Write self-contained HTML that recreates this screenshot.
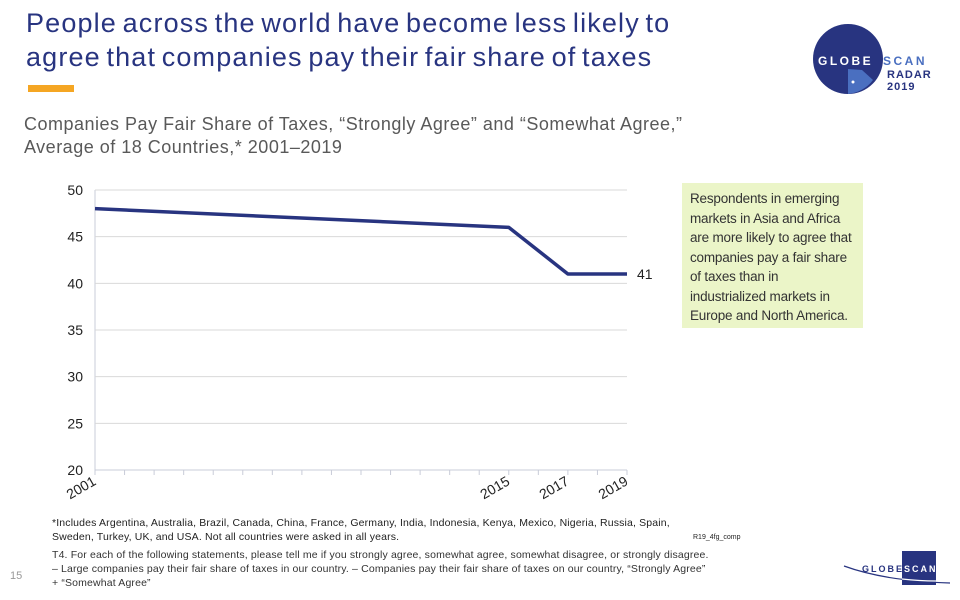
<!DOCTYPE html>
<html><head><meta charset="utf-8"><style>
body{margin:0;width:960px;height:600px;overflow:hidden;background:#fff;font-family:"Liberation Sans",sans-serif;position:relative}
.a{position:absolute}
</style></head><body>
<div class="a" style="left:26px;top:6px;font-size:27px;line-height:34px;color:#283480;letter-spacing:1.15px;word-spacing:-3px;white-space:nowrap">People across the world have become less likely to<br>agree that companies pay their fair share of taxes</div>
<div class="a" style="left:28px;top:85px;width:46px;height:7px;background:#f5a623"></div>
<div class="a" style="left:24px;top:113px;font-size:18px;line-height:23px;color:#595959;letter-spacing:0.5px;white-space:nowrap">Companies Pay Fair Share of Taxes, “Strongly Agree” and “Somewhat Agree,”<br>Average of 18 Countries,* 2001–2019</div>
<svg class="a" style="left:810px;top:20px" width="140" height="80">
<circle cx="38" cy="39" r="35" fill="#283480"/>
<path d="M38 49 L52 50 L63 60 A35 35 0 0 1 38 74 Z" fill="#4a6fc0"/>
<circle cx="43" cy="62" r="1.5" fill="#fff"/>
<text x="8" y="45" font-size="12" font-weight="bold" fill="#fff" letter-spacing="2.5">GLOBE</text>
<text x="73" y="45" font-size="12" font-weight="bold" fill="#4a6fc0" letter-spacing="2.5">SCAN</text>
<text x="77" y="58" font-size="11" font-weight="bold" fill="#283480" letter-spacing="1">RADAR</text>
<text x="77" y="70" font-size="11" font-weight="bold" fill="#283480" letter-spacing="1">2019</text>
</svg>
<svg class="a" id="chart" style="left:0;top:0" width="960" height="600"></svg>
<div class="a" style="left:682px;top:183px;width:181px;height:145px;background:#ebf5c8;box-sizing:border-box;padding:6px 8px;font-size:13.5px;line-height:19.5px;color:#333;letter-spacing:-0.2px">Respondents in emerging markets in Asia and Africa are more likely to agree that companies pay a fair share of taxes than in industrialized markets in Europe and North America.</div>
<div class="a" style="left:52px;top:516px;font-size:10.5px;line-height:14px;color:#222;width:720px;letter-spacing:0.15px;white-space:nowrap">*Includes Argentina, Australia, Brazil, Canada, China, France, Germany, India, Indonesia, Kenya, Mexico, Nigeria, Russia, Spain,<br>Sweden, Turkey, UK, and USA. Not all countries were asked in all years.</div>
<div class="a" style="left:693px;top:534px;font-size:7px;color:#222">R19_4fg_comp</div>
<div class="a" style="left:52px;top:548px;font-size:10.5px;line-height:14px;color:#333;width:760px;letter-spacing:0.15px;white-space:nowrap">T4. For each of the following statements, please tell me if you strongly agree, somewhat agree, somewhat disagree, or strongly disagree.<br>– Large companies pay their fair share of taxes in our country. – Companies pay their fair share of taxes on our country, “Strongly Agree”<br>+ “Somewhat Agree”</div>
<div class="a" style="left:10px;top:570px;font-size:11px;color:#999">15</div>
<svg class="a" style="left:840px;top:545px" width="115" height="45">
<rect x="62" y="6" width="34" height="34" fill="#283480"/>
<path d="M4 21 Q45 36 110 38" stroke="#283480" stroke-width="1.2" fill="none"/>
<path d="M62 34 Q80 36 96 36" stroke="#fff" stroke-width="1.2" fill="none"/>
<text x="22" y="27" font-size="9" font-weight="bold" fill="#283480" letter-spacing="2">GLOBE</text>
<text x="64" y="27" font-size="9" font-weight="bold" fill="#fff" letter-spacing="2">SCAN</text>
</svg>
<script>
const years=[2001,2002,2003,2004,2005,2006,2007,2008,2009,2010,2011,2012,2013,2014,2015,2016,2017,2018,2019];
const dataYears=[2001,2015,2017,2019];
const values=[48,46,41,41];
const yTicks=[20,25,30,35,40,45,50];
const xLabels=[2001,2015,2017,2019];
const ns="http://www.w3.org/2000/svg";
const svg=document.getElementById('chart');
const x0=95,x1=627,y0=470,y1=190;
const xs=y=>x0+(y-2001)/(2019-2001)*(x1-x0);
const ys=v=>y0-(v-20)/(50-20)*(y0-y1);
function mk(t,a){const e=document.createElementNS(ns,t);for(const k in a)e.setAttribute(k,a[k]);svg.appendChild(e);return e;}
let e=mk('line',{x1:x0,y1:y1,x2:x0,y2:y0,stroke:'#c8ccd8'});


e=mk('line',{x1:x0,y1:y0,x2:x1,y2:y0,stroke:'#c8ccd8'});


yTicks.forEach(v=>{
 if(v>20){const g=mk('line',{x1:x0,y1:ys(v),x2:x1,y2:ys(v),stroke:'#d9d9d9'});
 
 }
 const t=mk('text',{x:x0-12,y:ys(v)+5,'text-anchor':'end','font-size':'14',fill:'#222'});
 t.textContent=v;
 
 
});
years.forEach(y=>{const t=mk('line',{x1:xs(y),y1:y0,x2:xs(y),y2:y0+5,stroke:'#c8ccd8'});
 
 });
xLabels.forEach(y=>{const t=mk('text',{x:xs(y)+2,y:y0+14,'text-anchor':'end','font-size':'14',fill:'#222',transform:`rotate(-30 ${xs(y)+2} ${y0+14})`});
 t.textContent=y;
 
 });
const pts=dataYears.map((y,i)=>xs(y)+','+ys(values[i])).join(' ');
e=mk('polyline',{points:pts,fill:'none',stroke:'#283480','stroke-width':'3.5','stroke-linejoin':'round'});


const li=values.length-1;
e=mk('text',{x:xs(dataYears[li])+10,y:ys(values[li])+5,'font-size':'14',fill:'#222'});
e.textContent=values[li];


</script>
</body></html>
